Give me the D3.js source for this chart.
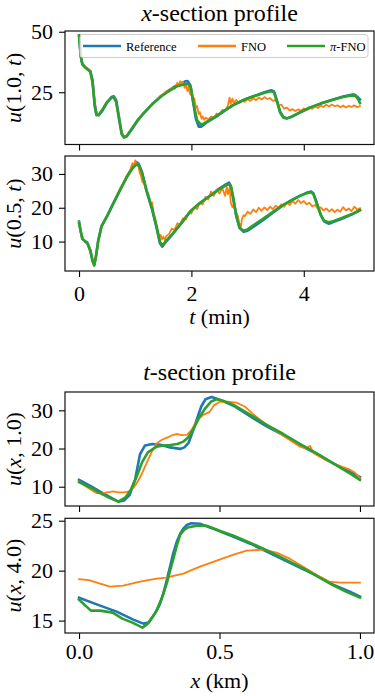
<!DOCTYPE html>
<html>
<head>
<meta charset="utf-8">
<script src="https://cdn.jsdelivr.net/npm/d3@7"></script>
<style>
  body { margin: 0; background: #fff; }
  svg { display: block; }
</style>
</head>
<body>
<div id="chart"></div>
<script>
// ---------------------------//
//       DATA                 //
// ---------------------------//

// x-section, u(1.0, t) : [t (min), u]
var ref1 = [[0,48.5],[0.03,40],[0.06,36.5],[0.12,35.2],[0.2,33.8],[0.24,30],[0.28,20],[0.31,16],[0.35,15.5],[0.42,17.5],[0.5,20.8],[0.58,23],[0.62,23.3],[0.66,21.8],[0.71,15],[0.76,8],[0.8,6.4],[0.85,6.8],[0.95,10],[1.05,13.5],[1.15,16.3],[1.3,20],[1.45,23.2],[1.6,25.8],[1.75,28],[1.88,29.4],[1.93,29.6],[1.98,28],[2.03,21],[2.08,14],[2.13,10.8],[2.18,10.8],[2.3,13],[2.45,15],[2.6,17.5],[2.75,19.8],[2.95,22],[3.1,23.3],[3.3,25],[3.42,25.8],[3.47,25.3],[3.53,21],[3.58,17],[3.64,14.6],[3.7,14.2],[3.8,15],[3.93,16.6],[4.1,18.5],[4.3,20.3],[4.5,21.8],[4.7,23.2],[4.85,24],[4.9,24],[4.96,23],[5,22]];
var fno1 = [[0,48.5],[0.05,37.5],[0.1,35.4],[0.15,35],[0.2,33.5],[0.25,27],[0.3,17],[0.35,15.8],[0.4,17],[0.45,19.4],[0.5,21],[0.55,22.3],[0.6,22.8],[0.65,21.8],[0.7,16],[0.75,9],[0.8,6.5],[0.85,7.2],[0.9,8.6],[0.95,10.4],[1,11.8],[1.05,13.6],[1.1,14.8],[1.15,16.6],[1.2,17.2],[1.25,18.9],[1.3,19.6],[1.35,21.3],[1.4,22],[1.45,23.6],[1.5,24],[1.55,25.4],[1.6,25.2],[1.65,27],[1.7,26.4],[1.75,28.9],[1.78,27.5],[1.8,29.6],[1.83,28],[1.85,29.3],[1.88,26.8],[1.9,28.6],[1.93,25.5],[1.95,27.2],[1.98,24],[2,25.2],[2.03,21.5],[2.05,22.5],[2.08,18.5],[2.1,19.3],[2.13,16],[2.15,16.8],[2.18,14],[2.2,15],[2.23,13.6],[2.25,14.5],[2.3,13.8],[2.35,14.9],[2.4,14.4],[2.45,16.2],[2.5,15.8],[2.55,17.7],[2.6,17.3],[2.65,19.5],[2.68,22.8],[2.7,20.2],[2.73,22.4],[2.75,20.6],[2.8,21.8],[2.85,20.4],[2.9,21.6],[2.95,21],[3,22.2],[3.05,21.4],[3.1,22.5],[3.15,21.7],[3.2,22.8],[3.25,22],[3.3,23],[3.35,22.2],[3.4,22.6],[3.45,21.4],[3.5,21.8],[3.55,19.6],[3.6,19.9],[3.65,18.2],[3.7,18.6],[3.75,17.4],[3.8,18],[3.85,17.2],[3.9,17.9],[3.95,17.3],[4,18.3],[4.05,17.6],[4.1,18.7],[4.15,18.1],[4.2,19.2],[4.25,18.5],[4.3,19.5],[4.35,18.9],[4.4,19.8],[4.45,19.1],[4.5,19.9],[4.55,19.2],[4.6,19.6],[4.65,18.8],[4.7,19.5],[4.75,18.7],[4.8,19.4],[4.85,18.9],[4.9,19.6],[4.95,18.8],[5,19.3]];
var pi1 = [[0,48.5],[0.03,40],[0.06,36.5],[0.12,35],[0.2,33.5],[0.24,29],[0.28,19],[0.31,15.5],[0.35,15.6],[0.42,18],[0.5,21],[0.58,22.8],[0.62,22.8],[0.66,21],[0.71,14],[0.76,7.5],[0.8,6.3],[0.85,6.9],[0.95,10.3],[1.05,13.7],[1.15,16.4],[1.3,20],[1.45,23],[1.6,25.5],[1.75,27.5],[1.88,28.3],[1.95,28.4],[1.99,27],[2.04,20],[2.1,13.5],[2.16,11.8],[2.22,12],[2.3,13.2],[2.45,15.2],[2.6,17.6],[2.75,19.8],[2.95,22],[3.1,23.2],[3.3,24.8],[3.42,25.4],[3.47,25],[3.53,20.5],[3.58,16.5],[3.64,14.5],[3.7,14.2],[3.8,15.1],[3.93,16.7],[4.1,18.6],[4.3,20.3],[4.5,21.8],[4.7,23],[4.85,23.7],[4.92,23.6],[4.97,22],[5,20.5]];

// x-section, u(0.5, t)
var ref2 = [[0,15.9],[0.03,13],[0.06,10.8],[0.1,10.2],[0.15,9.6],[0.2,7.5],[0.24,4.5],[0.27,3.1],[0.3,5.5],[0.34,10],[0.4,14.5],[0.5,17.5],[0.61,21.3],[0.73,25.3],[0.85,29.2],[0.95,32],[1.02,33.5],[1.06,33],[1.12,30.5],[1.2,25],[1.3,19.5],[1.38,14],[1.44,9.5],[1.48,8.5],[1.55,10],[1.68,12.5],[1.83,15.6],[1.98,18.9],[2.12,21],[2.27,22.8],[2.4,24.4],[2.51,25.8],[2.62,27],[2.67,27.4],[2.7,26.5],[2.74,23],[2.8,17.5],[2.86,14],[2.93,12.9],[3,13.2],[3.1,14.3],[3.28,16.4],[3.45,18.5],[3.64,20.8],[3.8,22.3],[3.93,23.5],[4.05,24.4],[4.13,24.8],[4.17,24.3],[4.22,22],[4.3,18],[4.36,16],[4.44,15.3],[4.5,15.6],[4.7,16.9],[4.88,18.2],[5,19.3]];
var fno2 = [[0,15.9],[0.05,11.2],[0.1,10.3],[0.15,9.4],[0.2,7.6],[0.25,3.8],[0.3,5.8],[0.35,11],[0.4,14.3],[0.45,16],[0.5,17.6],[0.55,19.3],[0.6,21],[0.65,22.8],[0.7,24.4],[0.75,26.3],[0.8,27.6],[0.85,29.6],[0.9,30.5],[0.95,33.2],[0.98,32.2],[1,34],[1.03,32.5],[1.05,32.9],[1.08,30.4],[1.1,29.5],[1.13,27.5],[1.15,28],[1.18,26],[1.2,25.5],[1.23,24.2],[1.25,23],[1.28,21],[1.3,21.6],[1.33,18],[1.35,17.2],[1.38,14.6],[1.4,13],[1.43,11],[1.45,12],[1.48,10.6],[1.5,11.5],[1.53,10.4],[1.55,11.6],[1.6,12.2],[1.65,13.8],[1.7,13.5],[1.75,15.4],[1.8,15],[1.85,16.9],[1.9,16.5],[1.95,18.6],[2,18.3],[2.05,20.2],[2.1,19.6],[2.15,21.5],[2.2,21],[2.25,23.2],[2.3,22.4],[2.35,24.8],[2.4,23.5],[2.45,25.4],[2.5,24.2],[2.55,25.8],[2.6,23.5],[2.63,26.2],[2.65,24],[2.68,26],[2.7,21.5],[2.73,20.2],[2.75,21],[2.78,19.2],[2.8,18.6],[2.83,17.4],[2.85,15.5],[2.88,14.2],[2.9,16.8],[2.93,17.8],[2.95,17.5],[3,18.8],[3.05,18.2],[3.1,19.5],[3.15,18.7],[3.2,20],[3.25,19.1],[3.3,20.1],[3.35,19.3],[3.4,20.3],[3.45,19.6],[3.5,20.6],[3.55,20],[3.6,21],[3.65,20.3],[3.7,21.5],[3.75,20.8],[3.8,22],[3.85,21.2],[3.9,22.3],[3.95,21.4],[4,22],[4.05,21],[4.1,21.5],[4.15,20.4],[4.2,20.8],[4.25,19.7],[4.3,20.1],[4.35,19.2],[4.4,19.8],[4.45,18.9],[4.5,19.6],[4.55,18.7],[4.6,19.4],[4.65,18.8],[4.7,20.2],[4.75,19.2],[4.8,19.8],[4.85,19],[4.9,20.3],[4.95,19.5],[5,19.9]];
var pi2 = [[0,15.5],[0.03,13],[0.06,10.8],[0.1,10.2],[0.15,9.4],[0.2,7.2],[0.24,4.2],[0.27,2.9],[0.3,5.5],[0.34,10.2],[0.4,14.6],[0.5,17.6],[0.61,21.3],[0.73,25.2],[0.85,29],[0.95,31.6],[1.02,32.8],[1.07,32.5],[1.12,30.5],[1.2,25.2],[1.3,19.8],[1.38,14.5],[1.44,10],[1.48,8.8],[1.55,10.2],[1.68,12.6],[1.83,15.7],[1.98,18.9],[2.12,21],[2.27,22.8],[2.4,24.3],[2.51,25.6],[2.62,26.7],[2.68,27],[2.71,26],[2.75,22.5],[2.8,17.5],[2.86,14],[2.93,13.2],[3,13.6],[3.1,14.8],[3.28,16.8],[3.45,18.8],[3.64,20.9],[3.8,22.4],[3.93,23.5],[4.05,24.3],[4.12,24.6],[4.17,24.1],[4.22,21.8],[4.3,18],[4.36,16.2],[4.44,15.7],[4.5,15.9],[4.7,17.1],[4.88,18.3],[5,19.3]];

// t-section, u(x, 1.0) : [x (km), u]
var ref3 = [[0,11.8],[0.04,10.2],[0.075,8.7],[0.11,7.3],[0.14,6.1],[0.16,6.4],[0.18,7.8],[0.2,12],[0.217,18.5],[0.235,20.8],[0.26,21.2],[0.29,21],[0.324,20.3],[0.36,19.9],[0.375,20.3],[0.39,21.5],[0.405,24.5],[0.42,27.8],[0.435,31],[0.45,32.9],[0.472,33.5],[0.5,32.8],[0.55,31.2],[0.61,28.4],[0.668,25.8],[0.727,23.5],[0.786,20.9],[0.846,18.6],[0.905,16.1],[0.964,13.9],[1,12.5]];
var fno3 = [[0,11.4],[0.03,9.8],[0.063,8.3],[0.09,8.4],[0.122,8.8],[0.14,8.5],[0.16,8.5],[0.18,8.8],[0.195,9.8],[0.21,11.5],[0.225,13.6],[0.24,16.1],[0.258,19],[0.276,21.3],[0.295,22.3],[0.315,22.9],[0.335,23.6],[0.35,23.8],[0.365,23.5],[0.384,23.6],[0.4,24.8],[0.42,27.4],[0.442,28.8],[0.465,29.6],[0.48,31.3],[0.5,32.2],[0.53,32.3],[0.56,32],[0.59,31],[0.62,29],[0.668,26.2],[0.73,23.2],[0.786,20.5],[0.81,20],[0.822,20.7],[0.835,18.8],[0.87,17.3],[0.905,16.1],[0.93,15.4],[0.96,14.6],[0.98,13.8],[1,12.3]];
var pi3 = [[0,11.2],[0.04,9.8],[0.075,8.3],[0.11,7],[0.14,6.1],[0.165,7.2],[0.185,9.3],[0.205,12.6],[0.225,16.5],[0.245,19],[0.276,20.5],[0.3,20.8],[0.324,20.9],[0.35,21.2],[0.371,21.8],[0.39,23],[0.41,25.5],[0.43,28.4],[0.45,30.6],[0.47,32.3],[0.49,32.9],[0.51,32.6],[0.55,31.4],[0.61,28.8],[0.668,26.2],[0.727,23.8],[0.786,21.2],[0.846,18.7],[0.905,16.1],[0.964,13.5],[1,11.8]];

// t-section, u(x, 4.0)
var ref4 = [[0,17.3],[0.075,16.5],[0.134,15.9],[0.193,15.1],[0.229,14.7],[0.248,14.8],[0.27,15.7],[0.287,16.6],[0.3,17.7],[0.312,19],[0.324,20.4],[0.336,21.8],[0.348,22.9],[0.36,23.7],[0.371,24.2],[0.385,24.6],[0.4,24.75],[0.43,24.7],[0.488,24.1],[0.55,23.4],[0.61,22.7],[0.668,21.9],[0.727,21.1],[0.786,20.3],[0.846,19.5],[0.905,18.6],[0.964,17.9],[1,17.4]];
var fno4 = [[0,19.15],[0.035,19.05],[0.075,18.7],[0.11,18.4],[0.157,18.5],[0.217,18.9],[0.276,19.2],[0.31,19.3],[0.371,19.7],[0.43,20.4],[0.49,21],[0.55,21.6],[0.597,22],[0.656,22.1],[0.703,21.8],[0.75,21.2],[0.81,20.2],[0.857,19.4],[0.89,18.9],[0.93,18.8],[1,18.8]];
var pi4 = [[0,17.1],[0.042,16],[0.075,16],[0.12,15.8],[0.154,15.2],[0.19,14.8],[0.226,14.3],[0.245,14.7],[0.26,15.3],[0.276,16],[0.294,17.2],[0.312,18.7],[0.324,20],[0.336,21.2],[0.348,22.5],[0.36,23.6],[0.375,24.1],[0.39,24.35],[0.42,24.5],[0.454,24.5],[0.5,24],[0.55,23.5],[0.6,22.9],[0.656,22.2],[0.7,21.6],[0.75,20.9],[0.8,20.2],[0.85,19.4],[0.9,18.6],[0.95,17.9],[1,17.3]];

var seriesNames = ["Reference", "FNO", "\u03C0-FNO"];
var tTicks = [0, 2, 4];
var xTicks = [0, 0.5, 1];
var yTicks1 = [25, 50];
var yTicks2 = [10, 20, 30];
var yTicks3 = [10, 20, 30];
var yTicks4 = [15, 20, 25];

// ---------------------------//
//       SETUP                //
// ---------------------------//
var W = 375, H = 696;
var left = 65, right = 374;
var colors = ["#1f77b4", "#ff7f0e", "#2ca02c"];
var widths = [2.6, 1.8, 2.6];
var serif = "Liberation Serif, Times New Roman, DejaVu Serif, serif";

var svg = d3.select("#chart").append("svg")
  .attr("width", W).attr("height", H);

var xT = d3.scaleLinear().domain([-0.25, 5.25]).range([left, right]);
var xX = d3.scaleLinear().domain([-0.05, 1.05]).range([left, right]);

var panels = [
  {top: 31, bottom: 144.5, x: xT, yDom: [3.4, 50.3], yTicks: yTicks1, xTicks: tTicks, xLabels: false, data: [ref1, fno1, pi1], lab: ["1.0", "t", true]},
  {top: 156, bottom: 271, x: xT, yDom: [1.3, 35.3], yTicks: yTicks2, xTicks: tTicks, xLabels: true, pad: 8, fmt: d3.format("d"), data: [ref2, fno2, pi2], lab: ["0.5", "t", true]},
  {top: 392, bottom: 506, x: xX, yDom: [4.95, 34.8], yTicks: yTicks3, xTicks: xTicks, xLabels: false, data: [ref3, fno3, pi3], lab: ["x", "1.0", false]},
  {top: 518.3, bottom: 633, x: xX, yDom: [13.76, 25.24], yTicks: yTicks4, xTicks: xTicks, xLabels: true, pad: 4.5, fmt: d3.format(".1f"), data: [ref4, fno4, pi4], lab: ["x", "4.0", false]}
];

panels.forEach(function(p, i) {
  var y = d3.scaleLinear().domain(p.yDom).range([p.bottom, p.top]);
  var g = svg.append("g");

  svg.append("clipPath").attr("id", "clip" + i)
    .append("rect")
    .attr("x", left).attr("y", p.top)
    .attr("width", right - left).attr("height", p.bottom - p.top);

  var line = d3.line()
    .x(function(d) { return p.x(d[0]); })
    .y(function(d) { return y(d[1]); });

  g.append("g").attr("clip-path", "url(#clip" + i + ")")
    .selectAll("path")
    .data(p.data)
    .enter()
    .append("path")
      .attr("d", line)
      .attr("fill", "none")
      .attr("stroke", function(d, k) { return colors[k]; })
      .attr("stroke-width", function(d, k) { return widths[k]; })
      .attr("stroke-linejoin", "round")
      .attr("stroke-linecap", "square");

  // y axis
  var ya = g.append("g")
    .attr("transform", "translate(" + left + ",0)")
    .call(d3.axisLeft(y).tickValues(p.yTicks).tickSize(6).tickPadding(6).tickFormat(d3.format("d")));
  ya.select(".domain").remove();
  ya.selectAll("line").attr("stroke", "#000").attr("stroke-width", 1.1);

  // x axis
  var xa = g.append("g")
    .attr("transform", "translate(0," + p.bottom + ")")
    .call(d3.axisBottom(p.x).tickValues(p.xTicks).tickSize(6).tickPadding(p.pad || 6).tickFormat(p.fmt || d3.format("d")));
  xa.select(".domain").remove();
  xa.selectAll("line").attr("stroke", "#000").attr("stroke-width", 1.1);
  if (!p.xLabels) xa.selectAll("text").remove();

  g.selectAll(".tick text")
    .style("font-family", serif)
    .style("font-size", "22px")
    .attr("fill", "#000");

  // frame
  g.append("rect")
    .attr("x", left).attr("y", p.top)
    .attr("width", right - left).attr("height", p.bottom - p.top)
    .attr("fill", "none").attr("stroke", "#111").attr("stroke-width", 1.2);

  // y label  u(a, b)
  var cy = (p.top + p.bottom) / 2;
  var yl = g.append("text")
    .attr("transform", "translate(20.5," + cy + ") rotate(-90)")
    .attr("text-anchor", "middle")
    .style("font-family", serif)
    .style("font-size", "22px");
  yl.append("tspan").attr("font-style", "italic").text("u");
  yl.append("tspan").text("(");
  if (p.lab[2]) {
    yl.append("tspan").text(p.lab[0] + ", ");
    yl.append("tspan").attr("font-style", "italic").text(p.lab[1]);
  } else {
    yl.append("tspan").attr("font-style", "italic").text(p.lab[0]);
    yl.append("tspan").text(", " + p.lab[1]);
  }
  yl.append("tspan").text(")");
});

// ---------------------------//
//       TITLES / LABELS      //
// ---------------------------//
var cx = (left + right) / 2;
function mathText(x, yy, size, it, rest) {
  var t = svg.append("text").attr("x", x).attr("y", yy)
    .attr("text-anchor", "middle")
    .style("font-family", serif)
    .style("font-size", size + "px");
  t.append("tspan").attr("font-style", "italic").text(it);
  t.append("tspan").text(rest);
}
mathText(cx, 21, 24, "x", "-section profile");
mathText(cx, 380, 24, "t", "-section profile");
mathText(cx, 324, 22, "t", " (min)");
mathText(cx, 688, 22, "x", " (km)");

// ---------------------------//
//       LEGEND               //
// ---------------------------//
svg.append("rect")
  .attr("x", 80).attr("y", 34.5)
  .attr("width", 288).attr("height", 23)
  .attr("rx", 3)
  .attr("fill", "#fff").attr("fill-opacity", 0.8)
  .attr("stroke", "#ccc").attr("stroke-width", 1);

var legX = [83, 198, 287];
var leg = svg.selectAll("g.leg")
  .data(seriesNames)
  .enter()
  .append("g").attr("class", "leg");
leg.append("line")
  .attr("x1", function(d, i) { return legX[i]; })
  .attr("x2", function(d, i) { return legX[i] + 38; })
  .attr("y1", 46).attr("y2", 46)
  .attr("stroke", function(d, i) { return colors[i]; })
  .attr("stroke-width", 2.6);
leg.append("text")
  .attr("x", function(d, i) { return legX[i] + 43; })
  .attr("y", 50.5)
  .style("font-family", serif)
  .style("font-size", "12.5px")
  .each(function(d) {
    var t = d3.select(this);
    if (d.charAt(0) === "\u03C0") {
      t.append("tspan").attr("font-style", "italic").text("\u03C0");
      t.append("tspan").text(d.slice(1));
    } else {
      t.text(d);
    }
  });
</script>
</body>
</html>
